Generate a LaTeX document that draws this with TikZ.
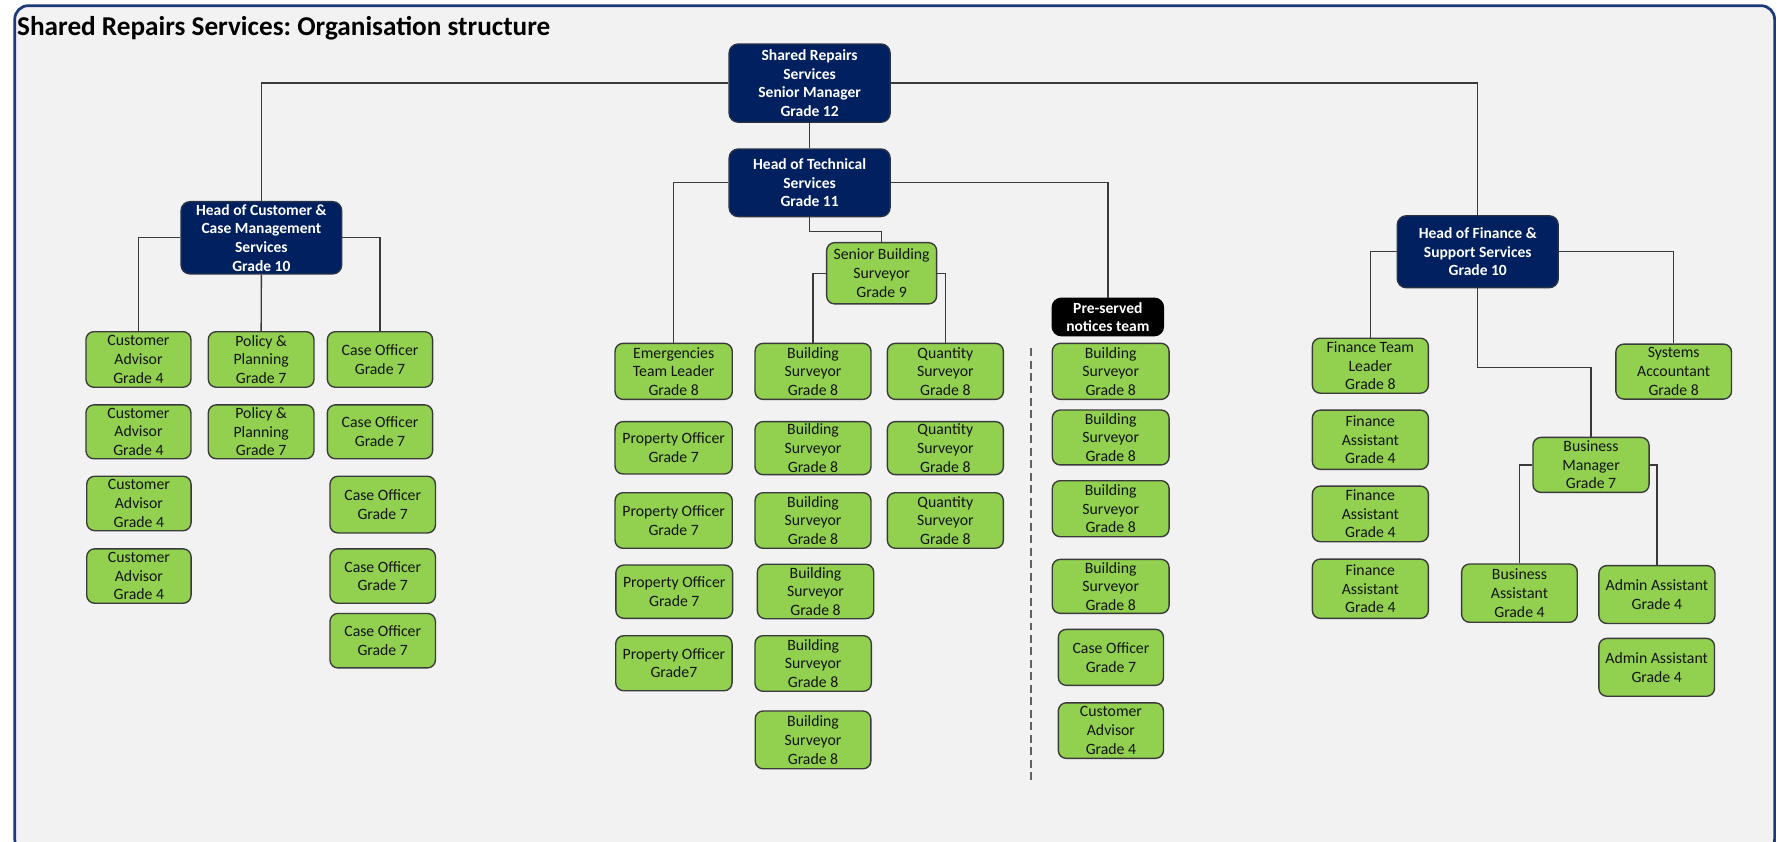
\documentclass[tikz,border=0pt]{standalone}
\usepackage{fontspec}
\setmainfont{Carlito}
\frenchspacing
\definecolor{navy}{HTML}{002060}
\definecolor{gfill}{HTML}{92D050}
\definecolor{gline}{HTML}{3A3A3A}
\definecolor{frameblue}{HTML}{1B3A7A}
\definecolor{bgray}{HTML}{F2F2F2}
\definecolor{txt}{HTML}{141414}
\tikzset{
  x=1pt, y=-1pt,
  gbox/.style={rounded corners=7pt, fill=gfill, draw=gline, line width=1.2pt, align=center,
    inner sep=0pt, text=txt, font=\fontsize{13.9}{16.5}\selectfont},
  nbox/.style={rounded corners=8pt, fill=navy, draw=gline!70!navy, line width=1.2pt, align=center,
    inner sep=0pt, text=white, font=\fontsize{13.7}{16.4}\selectfont\bfseries},
  kbox/.style={rounded corners=8pt, fill=black, draw=black, line width=1.2pt, align=center,
    inner sep=0pt, text=white, font=\fontsize{13.7}{16.4}\selectfont\bfseries},
  conn/.style={draw=gline, line width=1.2pt},
  sep/.style={draw=gline!80, line width=1.8pt, dash pattern=on 7pt off 4pt},
}
\newcommand{\bx}[7]{\node[#1, minimum width=#5pt, minimum height=#6pt] (#2) at (#3,#4) {#7};}
\begin{document}
\begin{tikzpicture}
\useasboundingbox (0,0) rectangle (1568,742.5);
\fill[white] (0,0) rectangle (1568,742.5);
\begin{scope}
\clip (0,0) rectangle (1568,742.5);
\draw[frameblue, line width=2.4pt, fill=bgray, rounded corners=12pt] (13,5) rectangle (1565,752);
\end{scope}
\node[anchor=base west, inner sep=0pt, font=\fontsize{24}{28}\selectfont\bfseries, text=black] (title) at (15,31) {Shared Repairs Services: Organisation structure};

% navy heads
\bx{nbox}{sm}{714}{73.3}{142}{69}{Shared Repairs\\Services\\Senior Manager\\Grade 12}
\bx{nbox}{ht}{714}{161.2}{142}{59.6}{Head of Technical\\Services\\Grade 11}
\bx{nbox}{hc}{230.5}{209.7}{141.7}{63.8}{Head of Customer \&\\Case Management\\Services\\Grade 10}
\bx{nbox}{hf}{1303.2}{222}{142}{63.5}{Head of Finance \&\\Support Services\\Grade 10}
\bx{kbox}{ps}{977}{279.5}{98}{33}{Pre-served\\notices team}

% customer
\bx{gbox}{ca1}{122.1}{317}{92.6}{49}{Customer\\Advisor\\Grade 4}
\bx{gbox}{ca2}{122.1}{380.8}{92.6}{47.5}{Customer\\Advisor\\Grade 4}
\bx{gbox}{ca3}{122.5}{444}{92}{48}{Customer\\Advisor\\Grade 4}
\bx{gbox}{ca4}{122.5}{508}{92}{48}{Customer\\Advisor\\Grade 4}
\bx{gbox}{pp1}{230.3}{317}{93.2}{49}{Policy \&\\Planning\\Grade 7}
\bx{gbox}{pp2}{230.3}{380.8}{93.2}{47.5}{Policy \&\\Planning\\Grade 7}
\bx{gbox}{co1}{335.1}{317}{92.8}{49}{Case Officer\\Grade 7}
\bx{gbox}{co2}{335.1}{380.8}{92.8}{47.5}{Case Officer\\Grade 7}
\bx{gbox}{co3}{337.5}{445}{93}{50}{Case Officer\\Grade 7}
\bx{gbox}{co4}{337.5}{508}{93}{48}{Case Officer\\Grade 7}
\bx{gbox}{co5}{337.5}{565}{93}{48}{Case Officer\\Grade 7}

% technical
\bx{gbox}{sbs}{777.5}{241}{97}{54}{Senior Building\\Surveyor\\Grade 9}
\bx{gbox}{em}{594.1}{327.5}{103.4}{49.4}{Emergencies\\Team Leader\\Grade 8}
\bx{gbox}{po1}{594.1}{394.9}{103.4}{46.2}{Property Officer\\Grade 7}
\bx{gbox}{po2}{594.1}{459}{103.4}{49}{Property Officer\\Grade 7}
\bx{gbox}{po3}{594.6}{521.8}{103}{47}{Property Officer\\Grade 7}
\bx{gbox}{po4}{594.3}{584.9}{102.6}{48.5}{Property Officer\\Grade7}
\bx{gbox}{bs1}{717}{327.5}{102.3}{49.4}{Building\\Surveyor\\Grade 8}
\bx{gbox}{bs2}{717}{395.2}{102.3}{46.8}{Building\\Surveyor\\Grade 8}
\bx{gbox}{bs3}{717}{459}{102.3}{49}{Building\\Surveyor\\Grade 8}
\bx{gbox}{bs4}{719.2}{521.6}{102.6}{48}{Building\\Surveyor\\Grade 8}
\bx{gbox}{bs5}{717.1}{585.1}{102.6}{49}{Building\\Surveyor\\Grade 8}
\bx{gbox}{bs6}{717}{652.5}{102}{51}{Building\\Surveyor\\Grade 8}
\bx{gbox}{qs1}{833.7}{327.5}{102.3}{49.4}{Quantity\\Surveyor\\Grade 8}
\bx{gbox}{qs2}{833.7}{395.2}{102.3}{46.8}{Quantity\\Surveyor\\Grade 8}
\bx{gbox}{qs3}{833.7}{459}{102.3}{49}{Quantity\\Surveyor\\Grade 8}

% pre-served team
\bx{gbox}{p1}{979.5}{327.5}{103}{49.4}{Building\\Surveyor\\Grade 8}
\bx{gbox}{p2}{979.5}{385.8}{103}{48.4}{Building\\Surveyor\\Grade 8}
\bx{gbox}{p3}{979.5}{448.6}{103}{49.4}{Building\\Surveyor\\Grade 8}
\bx{gbox}{p4}{979.5}{517.1}{103}{47.6}{Building\\Surveyor\\Grade 8}
\bx{gbox}{p5}{979.7}{579.7}{92.7}{49.4}{Case Officer\\Grade 7}
\bx{gbox}{p6}{979.7}{644.3}{92.7}{49}{Customer\\Advisor\\Grade 4}
\coordinate (dtop) at (908.9,307);
\coordinate (dbot) at (908.9,688);
\draw[sep] (dtop) -- (dbot);

% finance
\bx{gbox}{ftl}{1208.5}{322.5}{102.3}{48.5}{Finance Team\\Leader\\Grade 8}
\bx{gbox}{fa1}{1208.5}{387.8}{102.3}{52.3}{Finance\\Assistant\\Grade 4}
\bx{gbox}{fa2}{1208.5}{453.2}{102.3}{49}{Finance\\Assistant\\Grade 4}
\bx{gbox}{fa3}{1208.5}{519.2}{102.3}{52.3}{Finance\\Assistant\\Grade 4}
\bx{gbox}{sa}{1476}{327.7}{102}{48.5}{Systems\\Accountant\\Grade 8}
\bx{gbox}{bm}{1403.1}{410}{102.4}{48.5}{Business\\Manager\\Grade 7}
\bx{gbox}{ba}{1340}{523.1}{102}{51.4}{Business\\Assistant\\Grade 4}
\bx{gbox}{aa1}{1461.2}{524.3}{102.4}{51}{Admin Assistant\\Grade 4}
\bx{gbox}{aa2}{1461}{588.5}{102}{51}{Admin Assistant\\Grade 4}

% connectors
\draw[conn] (sm.west) -| (hc.north);
\draw[conn] (sm.east) -| (hf.north);
\draw[conn] (sm.south) -- (ht.north);
\draw[conn] (ht.west) -| (em.north);
\draw[conn] (ht.east) -| (ps.north);
\draw[conn] (ht.south) -- ++(0,12.5) -| (sbs.north);
\draw[conn] (sbs.west) -| (bs1.north);
\draw[conn] (sbs.east) -| (qs1.north);
\draw[conn] (hc.west) -| (ca1.north);
\draw[conn] (hc.south) -- (pp1.north);
\draw[conn] (hc.east) -| (co1.north);
\draw[conn] (hf.west) -| (ftl.north);
\draw[conn] (hf.east) -| (sa.north);
\draw[conn] (hf.south) -- ++(0,69.5) -| (bm.north);
\draw[conn] (bm.west) -| (ba.north);
\draw[conn] (bm.east) -| (aa1.north);
\end{tikzpicture}
\end{document}
